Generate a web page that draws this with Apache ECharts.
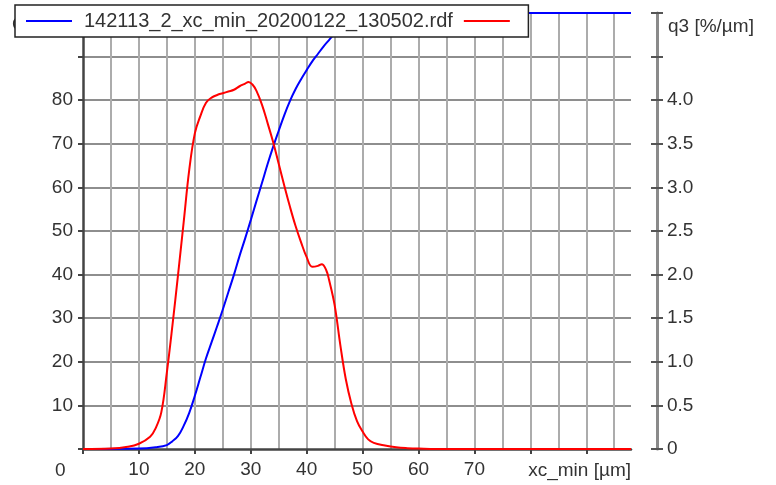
<!DOCTYPE html>
<html>
<head>
<meta charset="utf-8">
<script src="https://cdn.jsdelivr.net/npm/echarts@6/dist/echarts.min.js"></script>
<style>html,body{margin:0;padding:0;background:#fff}#c{width:776px;height:485px}</style>
</head>
<body>
<div id="c"></div>
<script>
// ---- data ----
const seriesName = '142113_2_xc_min_20200122_130502.rdf';
// cumulative distribution Q3 [%] (left axis)
const xcQ3 = [0,10,13,15,16,17,18,19,20,21,22,23,24,25,26,27,28,29,30,31,32,33,34,35,36,37,38,39,40,41,42,43,44,45,46,47,48,49,50,52,55,60,98];
const Q3 = [0,0.1,0.4,0.9,1.8,3.0,5.3,8.3,12.2,16.5,20.8,24.5,28.2,32,36,40,44.3,48.3,52.5,56.8,61,65.3,69.3,73,76.6,79.8,82.5,84.8,86.9,88.9,90.6,92.3,93.8,95.3,96.6,97.6,98.4,99,99.4,99.8,99.95,100,100];
// density distribution q3 [%/µm] (right axis)
const xcq3 = [0,5,8,10,12,13,14,15,16,17,18,19,20,21,22,23,24,25,26,27,28,29,29.6,30.3,31,32,33,34,35,36,37,38,39,40,41,42,42.7,43.5,44,45,46,47,48,49,50,51,52,54,56,58,60,65,98];
const q3 = [0,0.005,0.025,0.06,0.14,0.24,0.42,0.88,1.42,2.0,2.6,3.2,3.62,3.82,3.97,4.03,4.06,4.08,4.1,4.12,4.16,4.19,4.21,4.18,4.11,3.95,3.74,3.52,3.27,3.02,2.78,2.56,2.37,2.2,2.09,2.1,2.12,2.05,1.94,1.65,1.2,0.8,0.52,0.32,0.2,0.11,0.07,0.04,0.02,0.01,0.005,0,0];
// axis ticks
const xLabelValues = [10,20,30,40,50,60,70];
const xTickValues = [0,10,20,30,40,50,60,70,80,90];
const leftLabelValues = [10,20,30,40,50,60,70,80];
const rightLabelMax = 4.0;

const F = 'Liberation Sans, Arial, sans-serif';
const FS = 19;
const chart = echarts.init(document.getElementById('c'));

chart.setOption({
  animation: false,
  backgroundColor: '#fff',
  grid: [{left: 83, top: 13, width: 548, height: 436, containLabel: false}],
  legend: {
    left: 15, top: 5,
    data: [
      {name: seriesName, textStyle: {padding: [0, 0, 0, 7]}},
      {name: ' '}
    ],
    icon: 'rect',
    itemWidth: 46, itemHeight: 2,
    itemGap: 11,
    padding: [6, 8, 6, 11],
    backgroundColor: '#fff',
    borderColor: '#222', borderWidth: 1.5, borderRadius: 0,
    textStyle: {fontFamily: F, fontSize: 20, color: '#333'},
    selectedMode: false
  },
  xAxis: [
    { // grid lines every 5
      type: 'value', min: 0, max: 98, interval: 5,
      axisLine: {show: false}, axisTick: {show: false}, axisLabel: {show: false},
      splitLine: {show: true, showMinLine: false, showMaxLine: false, lineStyle: {color: '#acacac', width: 2}}
    },
    { // ticks and labels every 10
      type: 'value', min: 0, max: 98, interval: 10, position: 'bottom',
      axisLine: {show: true, onZero: false, lineStyle: {color: '#444', width: 2.5}},
      axisTick: {show: true, customValues: xTickValues, length: 5, lineStyle: {color: '#444', width: 2}},
      axisLabel: {show: true, customValues: xLabelValues, margin: 11, fontFamily: F, fontSize: FS, color: '#333',
        formatter: v => xLabelValues.indexOf(v) >= 0 ? String(v) : ''},
      splitLine: {show: false}
    }
  ],
  yAxis: [
    {
      type: 'value', min: 0, max: 100, interval: 10, position: 'left',
      axisLine: {show: true, onZero: false, lineStyle: {color: '#444', width: 2.5}},
      axisTick: {show: true, length: 5, lineStyle: {color: '#444', width: 2}},
      axisLabel: {margin: 10, fontFamily: F, fontSize: FS, color: '#333',
        formatter: v => leftLabelValues.indexOf(v) >= 0 ? String(v) : ''},
      splitLine: {show: true, showMinLine: false, lineStyle: {color: '#8e8e8e', width: 2}}
    },
    {
      type: 'value', min: 0, max: 5, interval: 0.5, position: 'right', offset: 26,
      axisLine: {show: true, onZero: false, lineStyle: {color: '#8a8a8a', width: 3}},
      axisTick: {show: true, length: 6, lineStyle: {color: '#555', width: 2}},
      axisLabel: {margin: 10, fontFamily: F, fontSize: FS, color: '#333',
        formatter: v => v === 0 ? '0' : (v <= rightLabelMax + 1e-9 ? v.toFixed(1) : '')},
      splitLine: {show: false}
    },
    {
      type: 'value', min: 0, max: 5, interval: 0.5, position: 'right', offset: 26,
      axisLine: {show: false, onZero: false},
      axisTick: {show: true, inside: true, length: 6, lineStyle: {color: '#555', width: 2}},
      axisLabel: {show: false},
      splitLine: {show: false}
    }
  ],
  graphic: [
    {type: 'text', z: 1, left: 12, top: 15, style: {text: 'Q3 [%]', font: FS + 'px ' + F, fill: '#333'}},
    {type: 'text', left: 55, top: 461, style: {text: '0', font: FS + 'px ' + F, fill: '#333'}},
    {type: 'text', right: 145, top: 461, style: {text: 'xc_min [µm]', font: FS + 'px ' + F, fill: '#333'}},
    {type: 'text', left: 668, top: 17, style: {text: 'q3 [%/µm]', font: FS + 'px ' + F, fill: '#333'}}
  ],
  series: [
    {
      name: seriesName, type: 'line', xAxisIndex: 0, yAxisIndex: 0,
      data: xcQ3.map((x, i) => [x, Q3[i]]),
      showSymbol: false, symbol: 'none', smooth: 0.4,
      lineStyle: {color: '#0000ff', width: 2}, itemStyle: {color: '#0000ff'}, z: 2
    },
    {
      name: ' ', type: 'line', xAxisIndex: 0, yAxisIndex: 1,
      data: xcq3.map((x, i) => [x, q3[i]]),
      showSymbol: false, symbol: 'none', smooth: 0.4,
      lineStyle: {color: '#ff0000', width: 2}, itemStyle: {color: '#ff0000'}, z: 3
    }
  ]
});
</script>
</body>
</html>
